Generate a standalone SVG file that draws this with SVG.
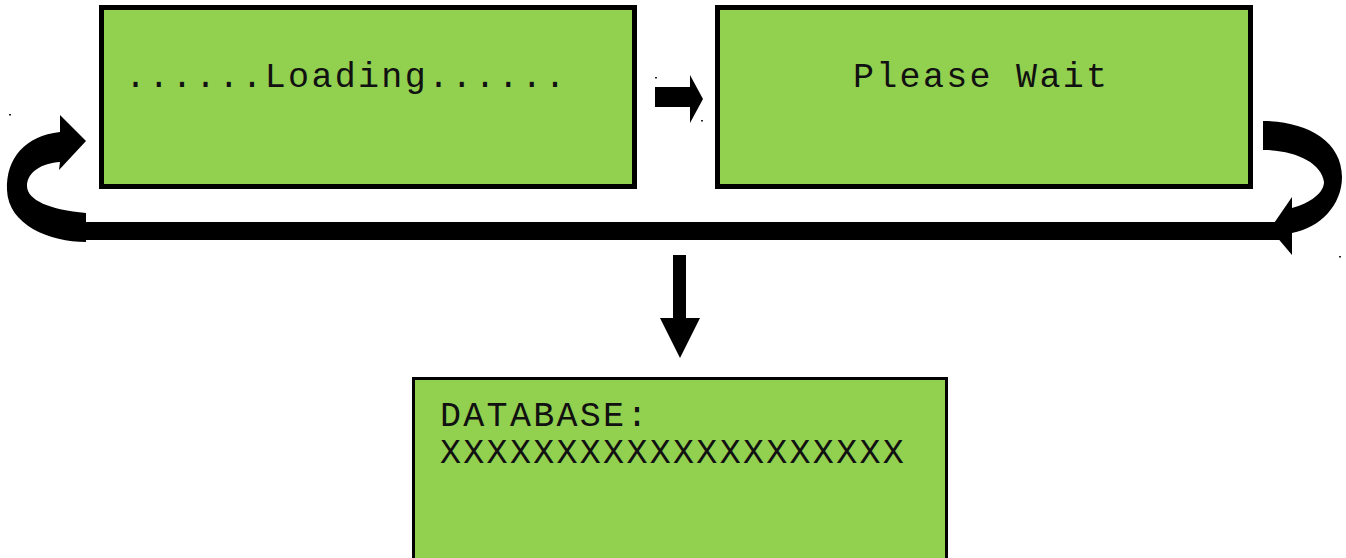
<svg xmlns="http://www.w3.org/2000/svg" width="1346" height="558" viewBox="0 0 1346 558">
  <defs>
    <style>
      .screen { fill: #92d050; stroke: #000; stroke-width: 5; }
      .screen.thin { stroke-width: 3; }
      .lcd { font-family: "Liberation Mono", "DejaVu Sans Mono", monospace; font-size: 35px; fill: #111; letter-spacing: 2.3px; }
      .arrow { fill: #000; stroke: none; }
      .speck { fill: #222; }
    </style>
  </defs>

  <rect width="1346" height="558" fill="#fff"/>

  <!-- LCD screen: loading -->
  <g id="screen-loading">
    <rect class="screen" x="101.5" y="7.5" width="533" height="179"/>
    <text class="lcd" x="125" y="87" letter-spacing="1.9">......Loading......</text>
  </g>

  <!-- LCD screen: please wait -->
  <g id="screen-wait">
    <rect class="screen" x="717.5" y="7.5" width="533" height="179"/>
    <text class="lcd" x="853" y="87">Please Wait</text>
  </g>

  <!-- LCD screen: database -->
  <g id="screen-database">
    <rect class="screen thin" x="413.5" y="378.5" width="533" height="190"/>
    <text class="lcd" x="440" y="426">DATABASE:</text>
    <text class="lcd" x="440" y="463">XXXXXXXXXXXXXXXXXXXX</text>
  </g>

  <!-- Flow arrows -->
  <g id="connectors">
    <!-- loading -> please wait -->
    <polygon class="arrow" points="655,87 690,87 690,75 703,99 690,123 690,107 655,107"/>
    <!-- loop back: long return bar -->
    <rect class="arrow" x="84" y="222" width="1196" height="18"/>
    <!-- left curved arrow up into the loading screen -->
    <path class="arrow" d="M86,213 C50,210 27,200 27,186 C27,172 42,163 60,162 L59,170 L86,141 L60,115 L60,132 C25,136 6,158 7,190 C8,225 50,242 86,242 Z"/>
    <!-- right curved arrow down from the please wait screen -->
    <path class="arrow" d="M1263,121 C1305,121 1342,140 1342,177 C1342,205 1320,228 1292,233 L1292,255 L1270,229 L1292,197 L1292,208 C1310,203 1324,193 1324,182 C1322,163 1295,150 1263,150 Z"/>
    <!-- down to database screen -->
    <polygon class="arrow" points="673,255 686,255 686,318 700,318 680,358 660,318 673,318"/>
  </g>

  <!-- small marks -->
  <rect class="speck" x="9" y="114" width="2" height="1.5"/>
  <rect class="speck" x="655" y="77" width="2" height="1.5"/>
  <rect class="speck" x="701" y="120" width="2" height="1.5"/>
  <rect class="speck" x="1339" y="256" width="2" height="1.5"/>
</svg>
